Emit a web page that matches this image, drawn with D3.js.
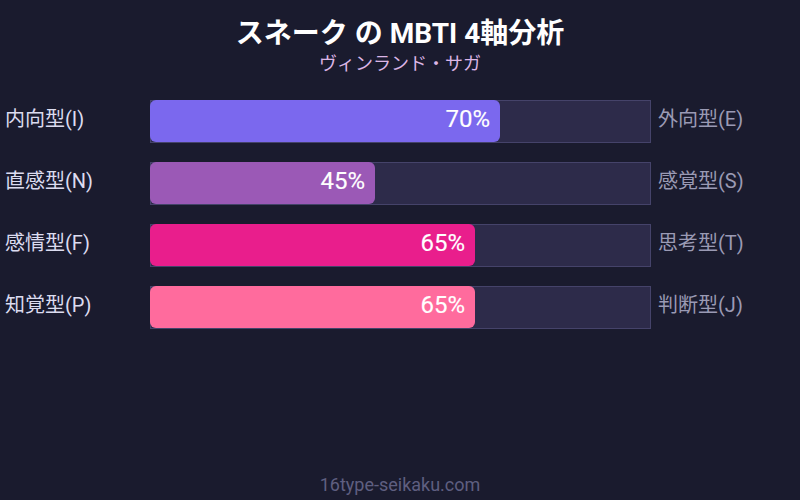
<!DOCTYPE html>
<html>
<head>
<meta charset="utf-8">
<script src="https://cdn.jsdelivr.net/npm/d3@7"></script>
<style>
  html, body { margin: 0; padding: 0; background: #1a1b2e; }
  svg { display: block; font-family: Roboto, "Noto Sans CJK JP", sans-serif; }
</style>
</head>
<body>
<svg id="chart" width="800" height="500"></svg>
<script>
const leftLabels = ["内向型(I)", "直感型(N)", "感情型(F)", "知覚型(P)"];
const rightLabels = ["外向型(E)", "感覚型(S)", "思考型(T)", "判断型(J)"];
const values = [70, 45, 65, 65];
const barColors = ["#7b68ee", "#9b59b6", "#e91e8c", "#ff6b9d"];

(() => {
    const svg = d3.select("#chart");
    const width = 800;

    svg.append("rect")
        .attr("width", 800)
        .attr("height", 500)
        .attr("fill", "#1a1b2e");

    svg.append("text")
        .attr("x", width / 2)
        .attr("y", 43)
        .attr("text-anchor", "middle")
        .attr("fill", "#ffffff")
        .style("font-size", "28px")
        .style("font-weight", "bold")
        .text("スネーク の MBTI 4軸分析");

    svg.append("text")
        .attr("x", width / 2)
        .attr("y", 70)
        .attr("text-anchor", "middle")
        .attr("fill", "#dcb6e6")
        .style("font-size", "18px")
        .text("ヴィンランド・サガ");

    const x = d3.scaleLinear().domain([0, 100]).range([150, 650]);
    // 42px bars on a 62px step
    const y = d3.scaleBand()
        .domain(d3.range(values.length))
        .range([100, 328])
        .paddingInner(20 / 62)
        .paddingOuter(0);

    const rows = svg.selectAll(".row")
        .data(values)
        .enter()
        .append("g")
        .attr("class", "row")
        .attr("transform", (d, i) => `translate(0,${y(i)})`);

    // track
    rows.append("rect")
        .attr("x", x(0) + 0.5)
        .attr("y", 0.5)
        .attr("width", x(100) - x(0))
        .attr("height", y.bandwidth())
        .attr("fill", "#2d2b4a")
        .attr("stroke", "#45436a")
        .attr("stroke-width", 1);

    // filled part
    rows.append("rect")
        .attr("x", x(0))
        .attr("width", d => x(d) - x(0))
        .attr("height", y.bandwidth())
        .attr("rx", 6)
        .attr("fill", (d, i) => barColors[i]);

    rows.append("text")
        .attr("x", d => x(d) - 10)
        .attr("y", y.bandwidth() / 2 - 2)
        .attr("dy", "0.35em")
        .attr("text-anchor", "end")
        .attr("fill", "#ffffff")
        .attr("stroke", "#ffffff")
        .attr("stroke-width", 0.15)
        .style("font-size", "24px")
        .style("font-weight", "normal")
        .text(d => d + "%");

    rows.append("text")
        .attr("x", 5)
        .attr("y", y.bandwidth() / 2 - 2)
        .attr("dy", "0.35em")
        .attr("fill", "#dcdcf0")
        .style("font-size", "20px")
        .text((d, i) => leftLabels[i]);

    rows.append("text")
        .attr("x", 658)
        .attr("y", y.bandwidth() / 2 - 2)
        .attr("dy", "0.35em")
        .attr("fill", "#9a9ab4")
        .style("font-size", "20px")
        .text((d, i) => rightLabels[i]);

    svg.append("text")
        .attr("x", width / 2)
        .attr("y", 491)
        .attr("text-anchor", "middle")
        .attr("fill", "#5f5f80")
        .style("font-size", "18px")
        .text("16type-seikaku.com");
})();
</script>
</body>
</html>
